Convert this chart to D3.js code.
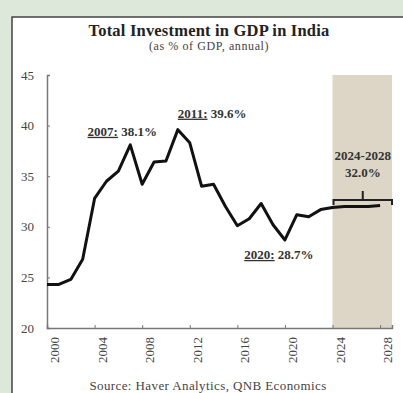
<!DOCTYPE html>
<html>
<head>
<meta charset="utf-8">
<script src="https://cdn.jsdelivr.net/npm/d3@7"></script>
<style>
body { margin: 0; background: #dde7da; }
svg text { font-family: "Liberation Serif", "DejaVu Serif", serif !important; fill: #222; }
</style>
</head>
<body>
<script>
var years = d3.range(2000, 2029);
var investment = [24.3, 24.3, 24.8, 26.8, 32.8, 34.5, 35.5, 38.1, 34.2, 36.4, 36.5, 39.6, 38.3, 34.0, 34.2,
	32.0, 30.1, 30.8, 32.3, 30.2, 28.7, 31.2, 31.0, 31.7, 31.9, 32.0, 32.0, 32.0, 32.1];
var yTicks = [20, 25, 30, 35, 40, 45];
var xTicks = [2000, 2004, 2008, 2012, 2016, 2020, 2024, 2028];
var notes = [
	{ year: 2007, value: 38.1, label: "2007:", text: " 38.1%" },
	{ year: 2011, value: 39.6, label: "2011:", text: " 39.6%" },
	{ year: 2020, value: 28.7, label: "2020:", text: " 28.7%" }
];
var forecast = { from: 2024, to: 2029, label: "2024-2028", value: "32.0%" };

var W = 403, H = 393;

var svg = d3.select("body").append("svg")
	.attr("width", W)
	.attr("height", H)
	.attr("font-family", "Liberation Serif")
;

// white panel with dark border
svg.append("rect")
	.attr("x", 12).attr("y", 17)
	.attr("width", W).attr("height", H)
	.style("fill", "white")
	.style("stroke", "#444")
	.style("stroke-width", 1.5)
;

var x = d3.scaleLinear().domain([2000, 2029]).range([47, 392]);
var y = d3.scaleLinear().domain([20, 45]).range([328, 75]);

// forecast shading
svg.append("rect")
	.attr("x", x(forecast.from))
	.attr("y", y(45))
	.attr("width", x(forecast.to) - x(forecast.from))
	.attr("height", y(20) - y(45))
	.style("fill", "#ddd6c6")
;

svg.append("text")
	.attr("x", 209).attr("y", 36)
	.attr("text-anchor", "middle")
	.style("font-weight", "bold")
	.style("font-size", "16.5px")
	.style("letter-spacing", "0.2px")
	.text("Total Investment in GDP in India");
svg.append("text")
	.attr("x", 209).attr("y", 50)
	.attr("text-anchor", "middle")
	.style("font-size", "12px")
	.style("letter-spacing", "0.6px")
	.style("fill", "#444")
	.text("(as % of GDP, annual)");
svg.append("text")
	.attr("x", 208).attr("y", 390)
	.attr("text-anchor", "middle")
	.style("font-size", "13px")
	.style("letter-spacing", "0.4px")
	.style("fill", "#444")
	.text("Source: Haver Analytics, QNB Economics");

// y axis
var yAxis = svg.append("g")
	.attr("transform", "translate(47,0)")
	.call(d3.axisLeft(y).tickValues(yTicks).tickSize(-3).tickPadding(13))
;
// x axis
var xAxis = svg.append("g")
	.attr("transform", "translate(0," + y(20) + ")")
	.call(d3.axisBottom(x).tickValues(xTicks).tickSize(-3).tickFormat(d3.format("d")))
;
[yAxis, xAxis].forEach(function(a){
	a.attr("font-family", null);
	a.select(".domain").style("stroke", "#777").style("stroke-width", 1.5);
	a.selectAll(".tick line").style("stroke", "#777");
	a.selectAll("text").style("font-size", "13px").style("fill", "#444");
});
xAxis.selectAll("text")
	.attr("text-anchor", "end")
	.attr("dy", "0.35em")
	.attr("transform", "translate(7,9) rotate(-90)")
	.attr("y", 0)
;

// line
var line = d3.line()
	.x(function(d,i){ return x(years[i]); })
	.y(function(d){ return y(d); });
svg.append("path")
	.datum(investment)
	.attr("d", line)
	.style("fill", "none")
	.style("stroke", "#111")
	.style("stroke-width", 3)
	.style("stroke-linejoin", "round")
;

// annotations
var offs = { 2007: [-8, -9, "middle"], 2011: [0, -12, "start"], 2020: [-6, 19, "middle"] };
notes.forEach(function(n){
	var o = offs[n.year];
	var t = svg.append("text")
		.attr("x", x(n.year) + o[0])
		.attr("y", y(n.value) + o[1])
		.attr("text-anchor", o[2])
		.style("font-weight", "bold")
		.style("font-size", "13px")
		.style("fill", "#333");
	t.append("tspan").style("text-decoration", "underline").text(n.label);
	t.append("tspan").text(n.text);
});

// forecast bracket
var bx0 = x(forecast.from) + 1, bx1 = x(forecast.to), bm = (bx0 + bx1) / 2, by = 200;
svg.append("path")
	.attr("d", "M" + bx0 + "," + (by + 5) + "V" + by + "H" + bx1 + "V" + (by + 5) + "M" + bm + "," + by + "V" + (by - 9))
	.style("fill", "none")
	.style("stroke", "#222")
	.style("stroke-width", 2)
;
svg.append("text")
	.attr("x", bm).attr("y", 160)
	.attr("text-anchor", "middle")
	.style("font-weight", "bold").style("font-size", "13px")
	.style("fill", "#333")
	.text(forecast.label);
svg.append("text")
	.attr("x", bm).attr("y", 177)
	.attr("text-anchor", "middle")
	.style("font-weight", "bold").style("font-size", "13px")
	.style("fill", "#333")
	.text(forecast.value);
</script>
</body>
</html>
